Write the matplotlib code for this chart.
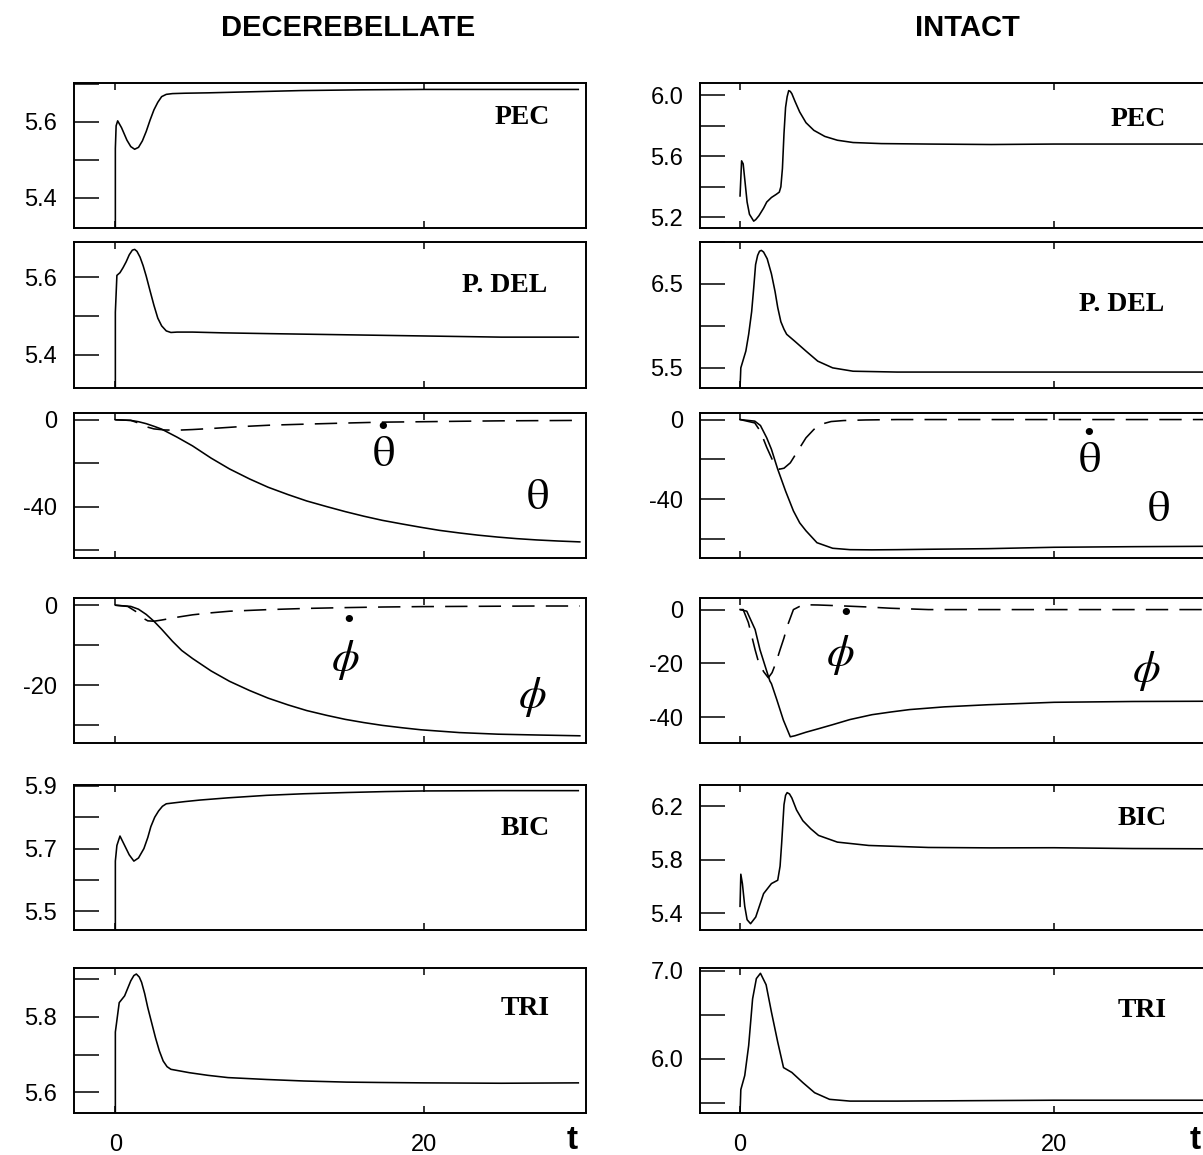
import matplotlib.pyplot as plt
import numpy as np

plt.rcParams['font.family'] = ['Liberation Sans', 'DejaVu Sans']
plt.rcParams['axes.unicode_minus'] = False

# ---- DECEREBELLATE ----
dec_pec_t = [0, 0, 0.05, 0.15, 0.4, 0.75, 1.0, 1.25, 1.5, 1.75, 2.0, 2.25, 2.5, 2.75, 3.0, 3.3, 3.7, 4.5, 6, 8, 12, 16, 20, 25, 30]
dec_pec = [5.30, 5.53, 5.59, 5.603, 5.585, 5.552, 5.535, 5.528, 5.533, 5.55, 5.575, 5.605, 5.632, 5.652, 5.667, 5.673, 5.675,
           5.676, 5.677, 5.679, 5.683, 5.685, 5.686, 5.686, 5.686]

dec_del_t = [0, 0, 0.1, 0.3, 0.5, 0.7, 0.9, 1.1, 1.25, 1.4, 1.6, 1.8, 2.0, 2.25, 2.5, 2.75, 3.0, 3.3, 3.6, 4, 5, 7, 10, 15, 20, 25, 30]
dec_del = [5.30, 5.51, 5.605, 5.612, 5.625, 5.64, 5.658, 5.67, 5.672, 5.667, 5.652, 5.63, 5.603, 5.565, 5.528, 5.495, 5.475,
           5.462, 5.458, 5.459, 5.459, 5.457, 5.455, 5.452, 5.449, 5.446, 5.446]

dec_th_t = [0, 1.0, 1.5, 2.0, 2.5, 3.0, 4.0, 5.0, 6.2, 7.4, 8.7, 9.9, 11.2, 12.4, 13.7, 14.9, 16.1, 17.3, 18.6, 19.8, 21, 22.3,
            23.5, 24.8, 26, 27.3, 28.7, 30.1]
dec_th = [0, -0.3, -0.9, -1.8, -3.0, -4.3, -8.0, -12.0, -17.6, -22.6, -27.2, -31.0, -34.4, -37.3, -39.9, -42.2, -44.3, -46.2,
          -47.9, -49.4, -50.8, -52.0, -53.0, -53.9, -54.6, -55.2, -55.7, -56.1]
dec_thd_t = [0, 1.0, 1.5, 2.0, 2.5, 3.2, 4.0, 5.0, 6.5, 8.0, 10.0, 12.4, 15.0, 17.3, 20.0, 22.3, 25.0, 27.5, 30.1]
dec_thd = [0, -0.3, -1.5, -3.2, -4.2, -4.7, -4.8, -4.5, -3.9, -3.2, -2.5, -2.0, -1.5, -1.1, -0.9, -0.7, -0.5, -0.4, -0.3]

dec_ph_t = [0, 1.0, 1.5, 2.0, 2.5, 3.0, 3.7, 4.3, 5.0, 6.2, 7.4, 8.7, 9.9, 11.2, 12.4, 13.7, 14.9, 16.1, 17.3, 18.6, 19.8,
            22.3, 24.8, 27.3, 30.1]
dec_ph = [0, -0.3, -1.0, -2.3, -4.0, -6.0, -9.0, -11.3, -13.3, -16.4, -19.0, -21.3, -23.2, -24.9, -26.3, -27.5, -28.5,
          -29.3, -30.0, -30.6, -31.1, -31.8, -32.2, -32.4, -32.6]
dec_phd_t = [0, 0.8, 1.3, 1.7, 2.1, 2.5, 3.0, 4.0, 5.0, 6.2, 7.4, 9.9, 12.4, 14.9, 17.3, 19.8, 22.3, 24.8, 27.3, 30.1]
dec_phd = [0, -0.3, -1.5, -3.0, -3.9, -4.0, -3.7, -3.0, -2.4, -1.9, -1.5, -1.1, -0.8, -0.6, -0.45, -0.35, -0.3, -0.25,
           -0.2, -0.2]

dec_bic_t = [0, 0, 0.1, 0.3, 0.6, 0.9, 1.2, 1.5, 1.85, 2.1, 2.3, 2.55, 2.8, 3.05, 3.3, 3.8, 4.5, 5.5, 7.3, 9.8, 12.2, 15,
             17.5, 20, 25, 30]
dec_bic = [5.44, 5.66, 5.71, 5.74, 5.71, 5.68, 5.66, 5.67, 5.70, 5.735, 5.77, 5.80, 5.82, 5.835, 5.843, 5.846, 5.85,
           5.855, 5.862, 5.87, 5.875, 5.879, 5.882, 5.884, 5.885, 5.885]

dec_tri_t = [0, 0, 0.25, 0.6, 1.0, 1.2, 1.36, 1.55, 1.7, 1.9, 2.1, 2.35, 2.6, 2.85, 3.1, 3.35, 3.6, 4.8, 6, 7.3, 9.8, 12.2,
             15, 17.2, 20, 25, 30]
dec_tri = [5.545, 5.76, 5.838, 5.856, 5.896, 5.91, 5.914, 5.906, 5.892, 5.862, 5.825, 5.785, 5.745, 5.71, 5.683, 5.668,
           5.661, 5.652, 5.645, 5.639, 5.634, 5.63, 5.627, 5.626, 5.625, 5.624, 5.625]

# ---- INTACT ----
int_pec_t = [0, 0.1, 0.2, 0.35, 0.45, 0.6, 0.87, 1.0, 1.2, 1.5, 1.7, 2.0, 2.3, 2.5, 2.6, 2.7, 2.8, 2.9, 3.0, 3.1, 3.2, 3.3,
             3.5, 3.8, 4.2, 4.7, 5.4, 6.2, 7.2, 9, 12, 16, 20, 25, 30]
int_pec = [5.34, 5.57, 5.55, 5.40, 5.30, 5.22, 5.175, 5.185, 5.21, 5.26, 5.30, 5.33, 5.35, 5.365, 5.40, 5.52, 5.75, 5.92,
           5.99, 6.03, 6.025, 6.01, 5.96, 5.89, 5.82, 5.77, 5.73, 5.705, 5.69, 5.683, 5.68, 5.677, 5.68, 5.68, 5.68]

int_del_t = [0, 0.05, 0.37, 0.55, 0.74, 0.87, 0.99, 1.12, 1.24, 1.36, 1.5, 1.73, 2.0, 2.23, 2.4, 2.6, 2.8, 2.97, 3.47, 4.2,
             4.95, 5.9, 7.2, 10, 15, 20, 25, 30]
int_del = [5.26, 5.5, 5.7, 5.9, 6.17, 6.45, 6.73, 6.84, 6.89, 6.9, 6.88, 6.8, 6.62, 6.41, 6.22, 6.05, 5.96, 5.9, 5.82, 5.7,
           5.58, 5.5, 5.46, 5.45, 5.45, 5.45, 5.45, 5.45]

int_th_t = [0, 0.94, 1.3, 1.7, 2.0, 2.4, 2.9, 3.4, 3.8, 4.2, 4.9, 5.9, 7, 8.4, 10, 12, 15.8, 20, 25, 30]
int_th = [0, -0.8, -3, -9.2, -15, -25, -36, -46, -52, -56, -62, -64.8, -65.5, -65.6, -65.5, -65.3, -65, -64.3, -64, -63.8]
int_thd_t = [0, 0.94, 1.3, 1.7, 2.1, 2.5, 2.8, 3.2, 3.7, 4.2, 4.7, 5.1, 5.8, 6.6, 8, 10, 30]
int_thd = [0, -1.7, -6, -14, -21, -25, -24.5, -21.8, -15.5, -9.2, -5, -2.5, -1, -0.5, -0.2, 0, 0]

int_ph_t = [0, 0.43, 0.96, 1.27, 1.6, 1.9, 2.0, 2.34, 2.76, 3.2, 3.5, 4.2, 5.0, 5.9, 7.0, 8.4, 9.6, 10.8, 13, 15.8, 20, 25, 30]
int_ph = [0, -0.6, -7.4, -14.9, -21, -26.5, -27.5, -33.4, -41, -47.2, -46.8, -45.5, -44.2, -42.7, -40.8, -39, -38, -37.1,
          -36.1, -35.3, -34.4, -34.1, -34]
int_phd_t = [0, 0.2, 0.53, 0.75, 0.96, 1.17, 1.5, 1.8, 2.04, 2.3, 2.55, 2.8, 3.0, 3.4, 4.0, 5.0, 6.4, 8.0, 9.6, 12, 30]
int_phd = [0, 0, -4.8, -9.9, -14.9, -19.3, -23, -25.3, -23.4, -19.5, -14.9, -10.5, -6.3, 0, 1.8, 1.7, 1.4, 1.0, 0.5, 0, 0]

int_bic_t = [0, 0.05, 0.15, 0.3, 0.45, 0.67, 1.0, 1.5, 2.0, 2.4, 2.55, 2.65, 2.8, 2.9, 3.0, 3.15, 3.3, 3.6, 4.0, 4.5, 5.0,
             6.2, 8.2, 12, 16, 20, 25, 30]
int_bic = [5.45, 5.69, 5.62, 5.45, 5.35, 5.32, 5.37, 5.545, 5.62, 5.645, 5.75, 5.92, 6.21, 6.28, 6.30, 6.29, 6.26, 6.17,
           6.09, 6.03, 5.98, 5.93, 5.905, 5.89, 5.887, 5.888, 5.882, 5.88]

int_tri_t = [0, 0.05, 0.3, 0.55, 0.8, 1.04, 1.3, 1.66, 2.0, 2.4, 2.77, 3.3, 4.0, 4.75, 5.7, 7, 10, 15, 20, 25, 30]
int_tri = [5.385, 5.65, 5.81, 6.15, 6.68, 6.91, 6.97, 6.84, 6.53, 6.19, 5.9, 5.845, 5.73, 5.615, 5.54, 5.52, 5.52, 5.525,
           5.53, 5.53, 5.53]

# y-axis ticks, labels and limits per panel (left column, right column)
dec_yticks = [[5.4, 5.5, 5.6, 5.7], [5.4, 5.5, 5.6], [-60, -40, -20, 0], [-30, -20, -10, 0],
              [5.5, 5.6, 5.7, 5.8, 5.9], [5.6, 5.7, 5.8, 5.9]]
dec_ylabels = [['5.4', '', '5.6', ''], ['5.4', '', '5.6'], ['', '-40', '', '0'], ['', '-20', '', '0'],
               ['5.5', '', '5.7', '', '5.9'], ['5.6', '', '5.8', '']]
dec_ylims = [(5.32, 5.703), (5.315, 5.691), (-63.5, 3.1), (-34.4, 1.8), (5.44, 5.903), (5.545, 5.93)]

int_yticks = [[5.2, 5.4, 5.6, 5.8, 6.0], [5.5, 6.0, 6.5, 7.0], [-60, -40, -20, 0], [-40, -20, 0],
              [5.4, 5.8, 6.2], [5.5, 6.0, 6.5, 7.0]]
int_ylabels = [['5.2', '', '5.6', '', '6.0'], ['5.5', '', '6.5', ''], ['', '-40', '', '0'], ['-40', '-20', '0'],
               ['5.4', '5.8', '6.2'], ['', '6.0', '', '7.0']]
int_ylims = [(5.13, 6.08), (5.26, 7.0), (-69.7, 3.3), (-49.5, 4.3), (5.273, 6.357), (5.385, 7.03)]

W, H = 1203, 1155
fig = plt.figure(figsize=(W / 100, H / 100), dpi=100)

row_top = [83, 242, 413, 598, 785, 968]
row_bot = [228, 388, 558, 743, 930, 1113]
col_left = [74, 700]
col_w = 512

dash = (0, (14, 7))
serif = ['STIXGeneral', 'Liberation Serif', 'DejaVu Serif']


def make_axes(col, row, xlim, ylim, yticks, ylabels):
    ax = fig.add_axes([col_left[col] / W, 1 - row_bot[row] / H,
                       col_w / W, (row_bot[row] - row_top[row]) / H])
    ax.set_xlim(*xlim)
    ax.set_ylim(*ylim)
    ax.set_xticks([0, 20])
    ax.set_xticklabels(['0', '20'] if row == 5 else ['', ''])
    ax.set_yticks(yticks)
    ax.set_yticklabels(ylabels)
    ax.tick_params(axis='y', direction='in', length=18, width=1.1, pad=12, labelsize=17)
    ax.tick_params(axis='x', direction='in', length=5, width=1.1, top=True, pad=15, labelsize=17)
    for s in ax.spines.values():
        s.set_linewidth(1.4)
    return ax


def panel_label(ax, x, y, txt):
    ax.text(x, y, txt, transform=ax.transAxes, ha='center', va='center',
            fontsize=20, fontweight='bold', family=['Liberation Serif', 'DejaVu Serif'])


def greek(ax, t, v, txt, size, dot=None):
    ax.text(t, v, txt, ha='center', va='center', fontsize=size, family=serif, math_fontfamily='stix')
    if dot is not None:
        ax.text(dot[0], dot[1], '\u2022', ha='center', va='center', fontsize=18, family='DejaVu Sans')


theta = '\u03b8'
phi = r'$\phi$'

cols = [
    dict(title='DECEREBELLATE', xlim=(-2.68, 30.5), ylims=dec_ylims, yticks=dec_yticks, ylabels=dec_ylabels,
         pec=(dec_pec_t, dec_pec), dl=(dec_del_t, dec_del), th=(dec_th_t, dec_th), thd=(dec_thd_t, dec_thd),
         ph=(dec_ph_t, dec_ph), phd=(dec_phd_t, dec_phd), bic=(dec_bic_t, dec_bic), tri=(dec_tri_t, dec_tri)),
    dict(title='INTACT', xlim=(-2.55, 30.06), ylims=int_ylims, yticks=int_yticks, ylabels=int_ylabels,
         pec=(int_pec_t, int_pec), dl=(int_del_t, int_del), th=(int_th_t, int_th), thd=(int_thd_t, int_thd),
         ph=(int_ph_t, int_ph), phd=(int_phd_t, int_phd), bic=(int_bic_t, int_bic), tri=(int_tri_t, int_tri)),
]

for c, d in enumerate(cols):
    axes = [make_axes(c, r, d['xlim'], d['ylims'][r], d['yticks'][r], d['ylabels'][r]) for r in range(6)]
    kw = dict(color='k', lw=1.15)
    axes[0].plot(*d['pec'], **kw)
    axes[1].plot(*d['dl'], **kw)
    axes[2].plot(*d['th'], **kw)
    axes[2].plot(*d['thd'], ls=dash, **kw)
    axes[3].plot(*d['ph'], **kw)
    axes[3].plot(*d['phd'], ls=dash, **kw)
    axes[4].plot(*d['bic'], **kw)
    axes[5].plot(*d['tri'], **kw)

    fig.text(348 / W if c == 0 else 967 / W, 1 - 28 / H, d['title'], ha='center', va='center',
             fontsize=21, fontweight='bold')
    axes[5].text(0.973 if c == 0 else 0.967, -0.19, 't', transform=axes[5].transAxes, ha='center', va='center',
                 fontsize=24, fontweight='bold')

    if c == 0:
        panel_label(axes[0], 0.875, 0.76, 'PEC')
        panel_label(axes[1], 0.842, 0.705, 'P. DEL')
        panel_label(axes[4], 0.881, 0.703, 'BIC')
        panel_label(axes[5], 0.881, 0.724, 'TRI')
        greek(axes[2], 17.4, -16.5, theta, 32, dot=(17.3, -3.6))
        greek(axes[2], 27.4, -36.5, theta, 32)
        greek(axes[3], 14.9, -13.8, phi, 32, dot=(15.1, -4.0))
        greek(axes[3], 27.0, -23.0, phi, 32)
    else:
        panel_label(axes[0], 0.855, 0.745, 'PEC')
        panel_label(axes[1], 0.824, 0.57, 'P. DEL')
        panel_label(axes[4], 0.863, 0.77, 'BIC')
        panel_label(axes[5], 0.863, 0.71, 'TRI')
        greek(axes[2], 22.3, -21.0, theta, 32, dot=(22.2, -7.2))
        greek(axes[2], 26.7, -46.0, theta, 32)
        greek(axes[3], 6.4, -16.8, phi, 32, dot=(6.7, -1.8))
        greek(axes[3], 25.9, -22.8, phi, 32)

fig.savefig('out.png', dpi=100)
